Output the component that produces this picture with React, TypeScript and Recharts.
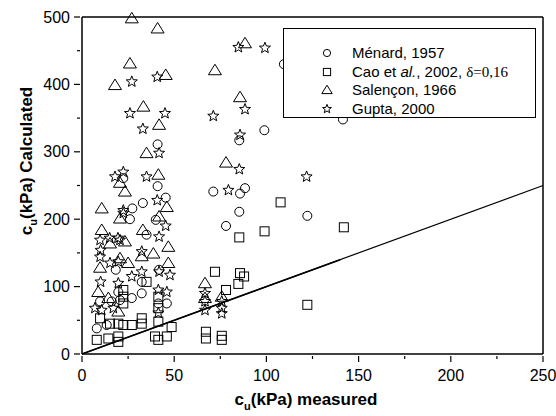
import { Legend, ReferenceLine, Scatter, ScatterChart, XAxis, YAxis } from "recharts";

// values
const menardX = [41, 22.4, 41, 45.4, 33, 27.3, 26, 40, 35, 41.8, 18.3, 32.4, 19.7, 20.6, 32.4, 27, 9.8, 16.1, 41.4, 46, 8, 13.4, 98.9, 85.3, 71.2, 85.7, 88.4, 85.3, 78.1, 122.2, 141.5, 109.5];
const menardY = [311, 261, 249, 232, 224, 216, 200, 199, 177, 125, 125, 107, 92, 80, 90, 83, 78, 78, 75, 75, 38, 43, 332, 317, 241, 238, 246, 211, 190, 205, 348, 430];

const caoX = [35, 22.4, 22.4, 22.4, 41.4, 41.4, 9.8, 15.2, 19.7, 22.4, 27, 32.4, 32.4, 41.4, 48.6, 8, 14.3, 19.7, 19.7, 39.6, 41.4, 46, 99, 85.3, 72.1, 85.7, 87.9, 84.8, 78.1, 67.2, 67.2, 75.8, 75.8, 107.7, 142, 122.2];
const caoY = [107, 95, 85, 75, 85, 68, 53, 45, 45, 43, 43, 53, 45, 48, 40, 21, 23, 26, 18, 26, 21, 26, 182, 173, 122, 120, 115, 104, 95, 33, 23, 27, 21, 225, 188, 73];

const salenconX = [27, 41, 26, 45.4, 17.9, 33.3, 41.8, 35, 20.6, 23.3, 41.4, 46, 10.7, 20.6, 41.8, 10.7, 33, 46.8, 15.2, 23.3, 38.7, 20.6, 9.8, 25, 46.8, 8.8, 14.3, 19.7, 32.4, 88.4, 72.1, 85.7, 78.1, 66.7, 66.7, 75.8];
const salenconY = [498, 483, 431, 414, 399, 367, 340, 298, 254, 241, 266, 218, 216, 201, 204, 184, 184, 159, 164, 167, 149, 142, 128, 135, 135, 92, 83, 63, 145, 461, 421, 381, 284, 105, 83, 85];

const guptaX = [40.8, 27, 26, 45, 33, 41.8, 22.4, 17.9, 35, 40.8, 22.4, 22.4, 45.4, 15, 19.5, 41.8, 9.8, 20.6, 10.1, 32.4, 9.8, 15.2, 19.7, 27, 32.4, 41.8, 47.7, 10.1, 19.7, 41.4, 46, 7, 10.7, 17, 41.4, 84.8, 99.2, 88.4, 71.2, 85.7, 85.3, 79.4, 66.7, 66.7, 66.7, 75.8, 75.8, 75.8, 121.8];
const guptaY = [411, 404, 357, 357, 334, 298, 270, 263, 263, 228, 213, 209, 190, 172, 172, 174, 169, 169, 154, 152, 144, 135, 137, 115, 122, 122, 117, 107, 105, 95, 92, 68, 65, 68, 61, 455, 454, 363, 353, 325, 274, 243, 90, 78, 65, 78, 68, 60, 263];

const lineX = [0, 250];
const lineY = [0, 250];
const shortLineX = [0, 140];
const shortLineY = [0, 140];

const xTicks = [0, 25, 50, 75, 100, 125, 150, 175, 200, 225, 250];
const yTicks = [0, 50, 100, 150, 200, 250, 300, 350, 400, 450, 500];

const toPoints = (xs: number[], ys: number[]) => xs.map((x, i) => ({ x, y: ys[i] }));

const FONT = "Arial, 'Liberation Sans', sans-serif";
const INK = "#000";

function circle(cx: number, cy: number, s = 1) {
  return <circle cx={cx} cy={cy} r={4.5 * s} fill="none" stroke={INK} strokeWidth={1} />;
}
function square(cx: number, cy: number, s = 1) {
  const h = 4.5 * s;
  return <rect x={cx - h} y={cy - h} width={2 * h} height={2 * h} fill="none" stroke={INK} strokeWidth={1} />;
}
function triangle(cx: number, cy: number, s = 1) {
  const pts = `${cx},${cy - 6 * s} ${cx - 6.5 * s},${cy + 4.5 * s} ${cx + 6.5 * s},${cy + 4.5 * s}`;
  return <polygon points={pts} fill="none" stroke={INK} strokeWidth={1} />;
}
function star(cx: number, cy: number, s = 1) {
  const pts: string[] = [];
  for (let i = 0; i < 10; i++) {
    const r = (i % 2 === 0 ? 5.8 : 2.5) * s;
    const a = -Math.PI / 2 + (i * Math.PI) / 5;
    pts.push(`${cx + r * Math.cos(a)},${cy + r * Math.sin(a)}`);
  }
  return <polygon points={pts.join(" ")} fill="none" stroke={INK} strokeWidth={1} />;
}

const shapeOf = (fn: (cx: number, cy: number) => any) => (p: any) => fn(p.cx, p.cy);

function XTick({ x, y, payload }: any) {
  const major = payload.value % 50 === 0;
  return (
    <g>
      <line x1={x} y1={y} x2={x} y2={y + (major ? 6 : 3)} stroke={INK} strokeWidth={1.2} />
      {major && (
        <text x={x} y={y + 25} textAnchor="middle" fontSize={16} fontFamily={FONT} fill={INK}>
          {payload.value}
        </text>
      )}
    </g>
  );
}

function YTick({ x, y, payload }: any) {
  const major = payload.value % 100 === 0;
  return (
    <g>
      <line x1={x} y1={y} x2={x - (major ? 6 : 3)} y2={y} stroke={INK} strokeWidth={1.2} />
      {major && (
        <text x={x - 10} y={y + 5.5} textAnchor="end" fontSize={16} fontFamily={FONT} fill={INK}>
          {payload.value}
        </text>
      )}
    </g>
  );
}

function XTitle() {
  return (
    <text x={306} y={405} textAnchor="middle" fontSize={17} fontWeight="bold" fontFamily={FONT} fill={INK}>
      c<tspan fontSize={11} dy={5}>u</tspan>
      <tspan dy={-5}>(kPa) measured</tspan>
    </text>
  );
}

function YTitle() {
  return (
    <text
      x={32}
      y={161}
      transform="rotate(-90, 32, 161)"
      textAnchor="middle"
      fontSize={17}
      fontWeight="bold"
      fontFamily={FONT}
      fill={INK}
    >
      c<tspan fontSize={11} dy={5}>u</tspan>
      <tspan dy={-5}>(kPa) Calculated</tspan>
    </text>
  );
}

function LegendBox() {
  const rows = [24, 43, 61, 80];
  const text = { fontSize: 15, fontFamily: FONT, fill: INK };
  return (
    <svg width={253} height={90} style={{ display: "block" }}>
      {circle(43, rows[0], 0.8)}
      {square(43, rows[1], 0.8)}
      {triangle(43, rows[2], 0.8)}
      {star(43, rows[3], 0.8)}
      <text x={68} y={rows[0] + 5} {...text}>Ménard, 1957</text>
      <text x={68} y={rows[1] + 5} {...text}>
        Cao  et <tspan fontStyle="italic">al.</tspan>, 2002,{" "}
        <tspan fontFamily="'Times New Roman', 'Liberation Serif', serif">δ=0,16</tspan>
      </text>
      <text x={68} y={rows[2] + 5} {...text}>Salençon, 1966</text>
      <text x={68} y={rows[3] + 5} {...text}>Gupta, 2000</text>
    </svg>
  );
}

export default function App() {
  return (
    <div style={{ position: "absolute", left: 0, top: 0, width: 556, height: 416, background: "#fff" }}>
      <ScatterChart width={556} height={416} margin={{ top: 17, right: 13, bottom: 32, left: 0 }}>
        <XAxis
          type="number"
          dataKey="x"
          domain={[0, 250]}
          ticks={xTicks}
          interval={0}
          tickSize={0}
          tickLine={false}
          height={30}
          axisLine={{ stroke: INK, strokeWidth: 1.5 }}
          tick={<XTick />}
          label={<XTitle />}
        />
        <YAxis
          type="number"
          dataKey="y"
          domain={[0, 500]}
          ticks={yTicks}
          interval={0}
          tickSize={0}
          tickLine={false}
          width={82}
          axisLine={{ stroke: INK, strokeWidth: 1.5 }}
          tick={<YTick />}
          label={<YTitle />}
        />
        <ReferenceLine y={500} stroke={INK} strokeWidth={1.5} />
        <ReferenceLine x={250} stroke={INK} strokeWidth={1.5} />
        <Scatter data={toPoints(lineX, lineY)} line={{ stroke: INK, strokeWidth: 1.2 }} shape={() => <g />} isAnimationActive={false} legendType="none" />
        <Scatter data={toPoints(shortLineX, shortLineY)} line={{ stroke: INK, strokeWidth: 1.6 }} shape={() => <g />} isAnimationActive={false} legendType="none" />
        <Scatter name="Ménard, 1957" data={toPoints(menardX, menardY)} shape={shapeOf(circle)} isAnimationActive={false} />
        <Scatter name="Cao et al., 2002" data={toPoints(caoX, caoY)} shape={shapeOf(square)} isAnimationActive={false} />
        <Scatter name="Salençon, 1966" data={toPoints(salenconX, salenconY)} shape={shapeOf(triangle)} isAnimationActive={false} />
        <Scatter name="Gupta, 2000" data={toPoints(guptaX, guptaY)} shape={shapeOf(star)} isAnimationActive={false} />
        <Legend
          layout="vertical"
          align="center"
          verticalAlign="middle"
          content={<LegendBox />}
          wrapperStyle={{
            left: 283,
            top: 28,
            width: 253,
            height: 90,
            border: "1px solid #000",
            background: "#fff",
            boxSizing: "border-box",
          }}
        />
      </ScatterChart>
    </div>
  );
}
